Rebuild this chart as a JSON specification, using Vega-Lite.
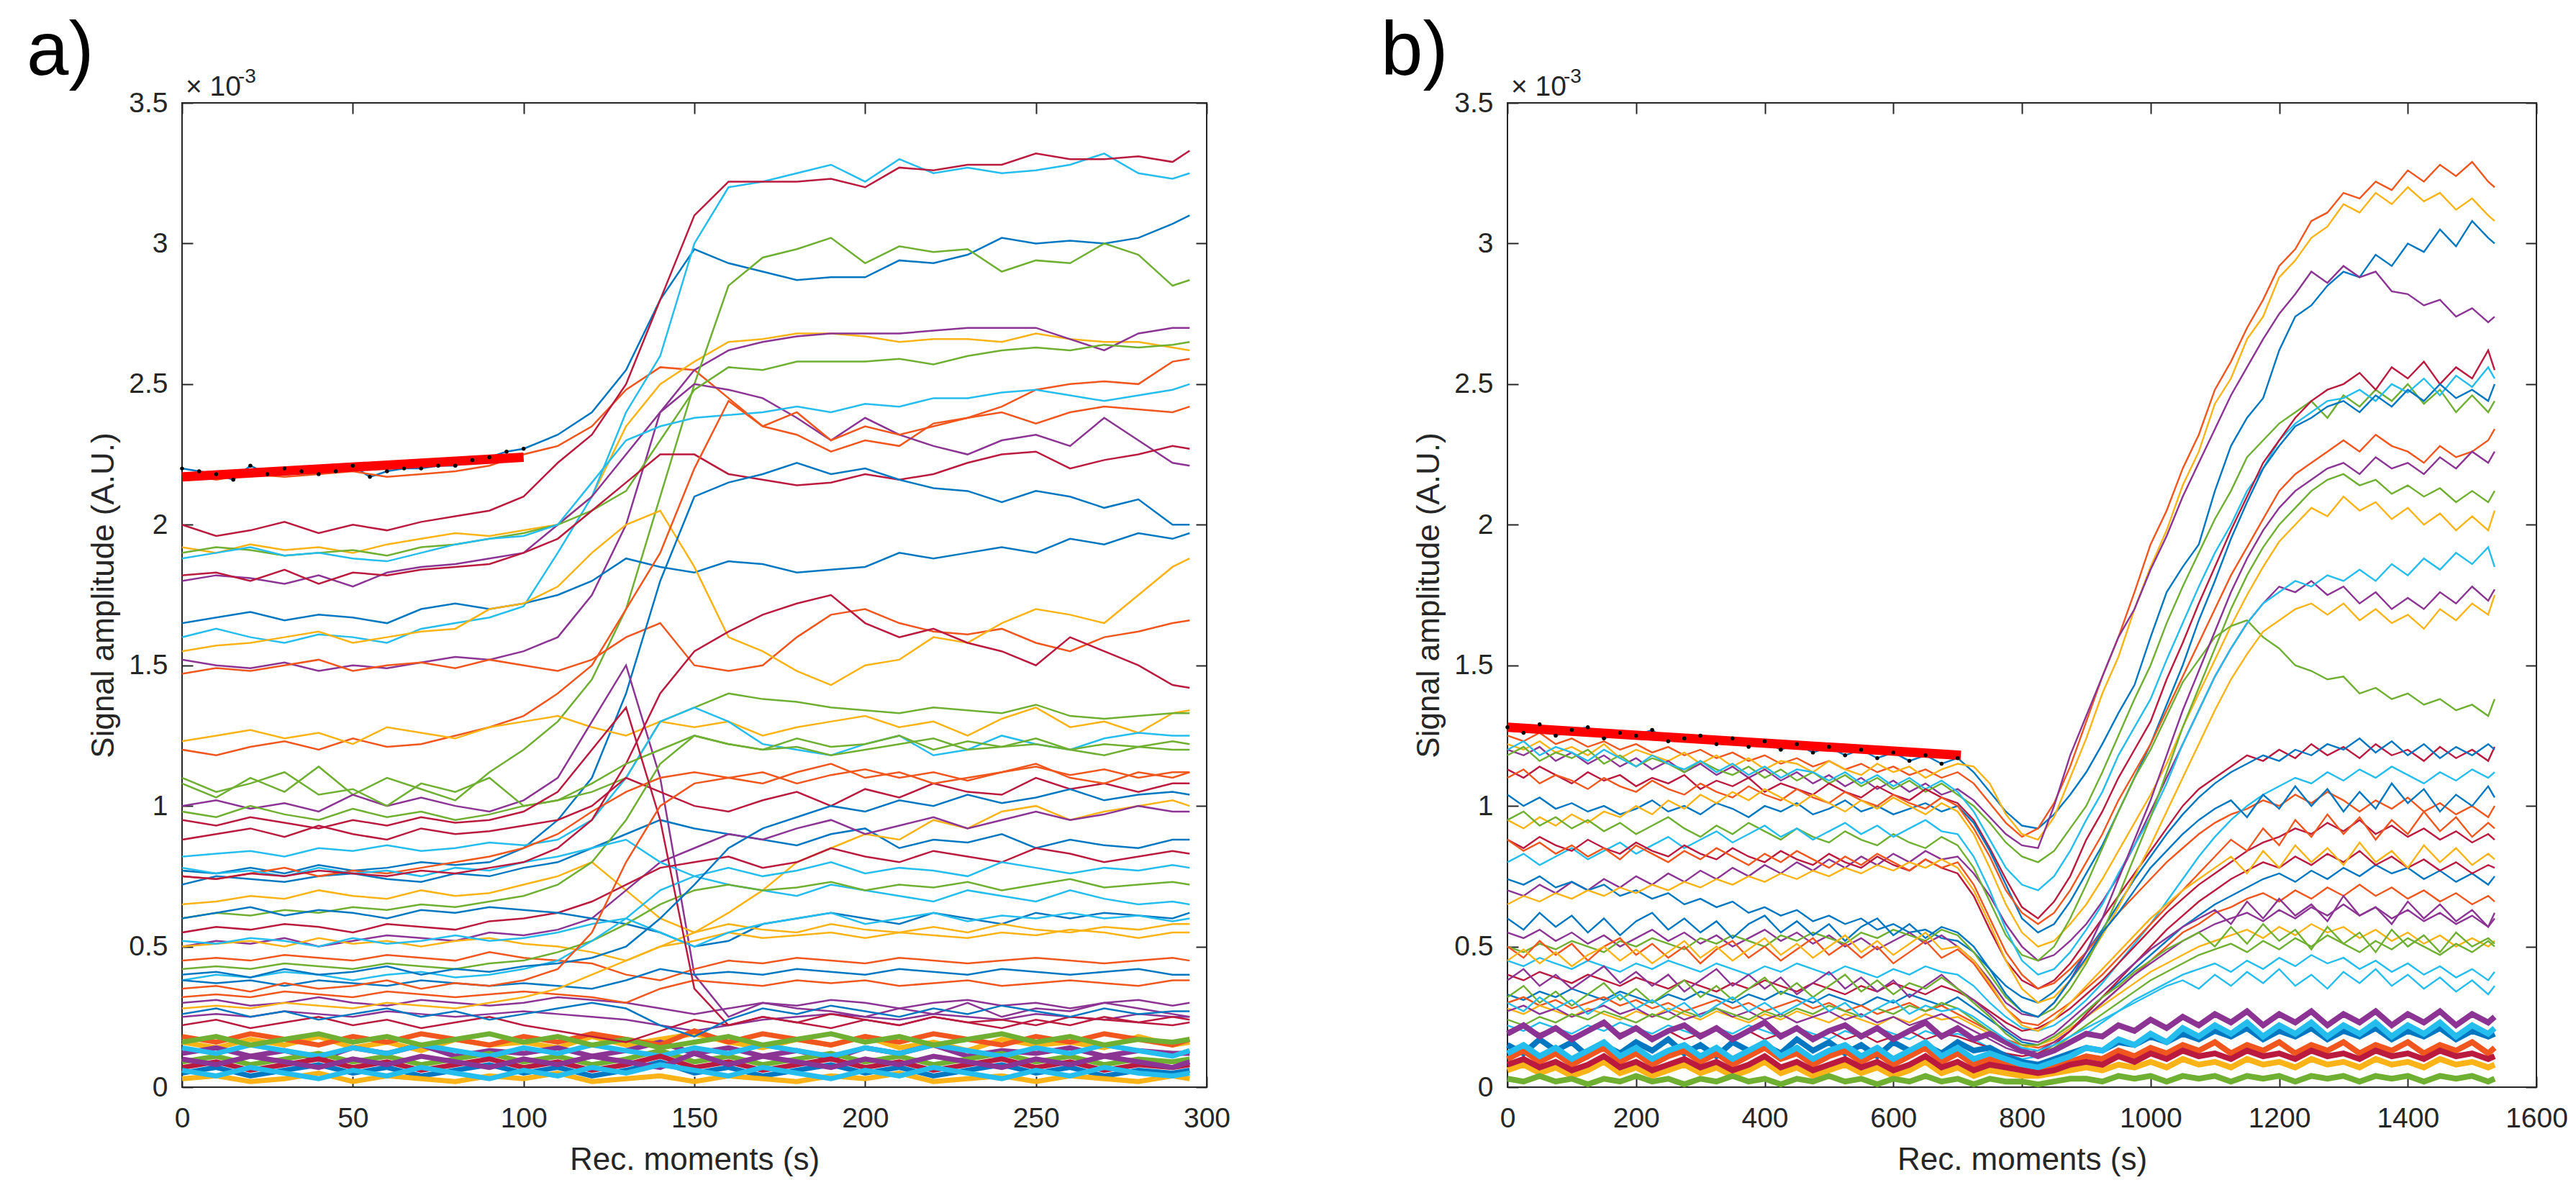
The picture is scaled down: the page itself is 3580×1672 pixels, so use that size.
{
  "$schema": "https://vega.github.io/schema/vega-lite/v6.json",
  "background": "white",
  "padding": {"left": 36, "top": 19, "right": 5, "bottom": 5},
  "spacing": 418,
  "bounds": "flush",
  "config": {
    "font": "Liberation Sans",
    "view": {"stroke": "#262626", "strokeWidth": 2},
    "axis": {
      "grid": false, "domain": false, "tickSize": -15, "tickWidth": 2, "tickColor": "#262626",
      "labelFont": "Liberation Sans", "labelFontSize": 39, "labelColor": "#262626", "labelFlush": false, "labelOverlap": false,
      "titleFont": "Liberation Sans", "titleFontSize": 44, "titleFontWeight": "normal", "titleColor": "#262626"
    },
    "axisX": {"labelPadding": 39, "titlePadding": 16},
    "axisY": {"labelPadding": 35, "titlePadding": 12},
    "title": {"font": "Liberation Sans", "fontSize": 105, "fontWeight": "normal", "anchor": "start", "frame": "group", "baseline": "alphabetic", "color": "#000000", "offset": -33}
  },
  "hconcat": [
    {
      "title": {"text": "a)", "dx": -216},
      "width": 1424,
      "height": 1368,
      "data": {
        "values": "s,t,v\n0,0,220\n0,5,219\n0,10,218\n0,15,216\n0,20,221\n0,25,218\n0,30,220\n0,35,219\n0,40,218\n0,45,219\n0,50,221\n0,55,217\n0,60,219\n0,65,220\n0,70,220\n0,75,221\n0,80,221\n0,85,223\n0,90,224\n0,95,226\n0,100,227\n0,110,232\n0,120,240\n0,130,255\n0,140,280\n0,150,298\n0,160,293\n0,170,290\n0,180,287\n0,190,288\n0,200,288\n0,210,294\n0,220,293\n0,230,296\n0,240,302\n0,250,300\n0,260,301\n0,270,300\n0,280,302\n0,290,307\n0,295,310\n1,0,218\n1,10,216\n1,20,218\n1,30,217\n1,40,218\n1,50,219\n1,60,217\n1,70,218\n1,80,219\n1,90,221\n1,100,225\n1,110,228\n1,120,235\n1,130,248\n1,140,256\n1,150,255\n1,160,245\n1,170,235\n1,180,232\n1,190,226\n1,200,230\n1,210,228\n1,220,236\n1,230,238\n1,240,242\n1,250,248\n1,260,250\n1,270,251\n1,280,250\n1,290,258\n1,295,259\n2,0,192\n2,10,190\n2,20,193\n2,30,191\n2,40,192\n2,50,190\n2,60,193\n2,70,195\n2,80,197\n2,90,196\n2,100,198\n2,110,200\n2,120,210\n2,130,235\n2,140,250\n2,150,258\n2,160,265\n2,170,266\n2,180,268\n2,190,268\n2,200,267\n2,210,265\n2,220,266\n2,230,266\n2,240,265\n2,250,268\n2,260,266\n2,270,265\n2,280,265\n2,290,263\n2,295,262\n3,0,152\n3,10,150\n3,20,149\n3,30,151\n3,40,148\n3,50,150\n3,60,149\n3,70,151\n3,80,153\n3,90,152\n3,100,155\n3,110,160\n3,120,175\n3,130,200\n3,140,240\n3,150,255\n3,160,262\n3,170,265\n3,180,267\n3,190,268\n3,200,268\n3,210,268\n3,220,269\n3,230,270\n3,240,270\n3,250,270\n3,260,266\n3,270,262\n3,280,268\n3,290,270\n3,295,270\n4,0,108\n4,10,103\n4,20,110\n4,30,105\n4,40,114\n4,50,104\n4,60,110\n4,70,106\n4,80,102\n4,90,112\n4,100,120\n4,110,130\n4,120,145\n4,130,170\n4,140,210\n4,150,250\n4,160,285\n4,170,295\n4,180,298\n4,190,302\n4,200,293\n4,210,299\n4,220,297\n4,230,298\n4,240,290\n4,250,294\n4,260,293\n4,270,300\n4,280,296\n4,290,285\n4,295,287\n5,0,160\n5,10,163\n5,20,160\n5,30,158\n5,40,161\n5,50,160\n5,60,158\n5,70,163\n5,80,165\n5,90,167\n5,100,171\n5,110,190\n5,120,210\n5,130,240\n5,140,260\n5,150,300\n5,160,320\n5,170,322\n5,180,325\n5,190,328\n5,200,322\n5,210,330\n5,220,325\n5,230,327\n5,240,325\n5,250,326\n5,260,328\n5,270,332\n5,280,325\n5,290,323\n5,295,325\n6,0,200\n6,10,196\n6,20,198\n6,30,201\n6,40,197\n6,50,200\n6,60,198\n6,70,201\n6,80,203\n6,90,205\n6,100,210\n6,110,222\n6,120,232\n6,130,250\n6,140,280\n6,150,310\n6,160,322\n6,170,322\n6,180,322\n6,190,323\n6,200,320\n6,210,327\n6,220,326\n6,230,328\n6,240,328\n6,250,332\n6,260,330\n6,270,330\n6,280,331\n6,290,329\n6,295,333\n7,0,165\n7,10,167\n7,20,169\n7,30,166\n7,40,168\n7,50,167\n7,60,165\n7,70,170\n7,80,172\n7,90,170\n7,100,172\n7,110,175\n7,120,180\n7,130,188\n7,140,185\n7,150,183\n7,160,187\n7,170,186\n7,180,183\n7,190,184\n7,200,185\n7,210,190\n7,220,188\n7,230,190\n7,240,192\n7,250,190\n7,260,195\n7,270,193\n7,280,197\n7,290,195\n7,295,197\n8,0,147\n8,10,149\n8,20,148\n8,30,150\n8,40,152\n8,50,148\n8,60,150\n8,70,151\n8,80,149\n8,90,152\n8,100,150\n8,110,148\n8,120,152\n8,130,160\n8,140,165\n8,150,150\n8,160,148\n8,170,150\n8,180,160\n8,190,168\n8,200,170\n8,210,165\n8,220,162\n8,230,161\n8,240,163\n8,250,158\n8,260,155\n8,270,160\n8,280,162\n8,290,165\n8,295,166\n9,0,155\n9,10,157\n9,20,158\n9,30,160\n9,40,162\n9,50,158\n9,60,160\n9,70,162\n9,80,163\n9,90,170\n9,100,172\n9,110,178\n9,120,190\n9,130,200\n9,140,205\n9,150,185\n9,160,160\n9,170,155\n9,180,148\n9,190,143\n9,200,150\n9,210,152\n9,220,160\n9,230,158\n9,240,165\n9,250,170\n9,260,168\n9,270,165\n9,280,175\n9,290,185\n9,295,188\n10,0,180\n10,10,182\n10,20,181\n10,30,179\n10,40,182\n10,50,178\n10,60,183\n10,70,185\n10,80,186\n10,90,188\n10,100,190\n10,110,200\n10,120,210\n10,130,225\n10,140,240\n10,150,250\n10,160,248\n10,170,245\n10,180,238\n10,190,230\n10,200,238\n10,210,232\n10,220,228\n10,230,225\n10,240,230\n10,250,232\n10,260,228\n10,270,238\n10,280,230\n10,290,222\n10,295,221\n11,0,190\n11,10,192\n11,20,191\n11,30,189\n11,40,190\n11,50,191\n11,60,189\n11,70,192\n11,80,193\n11,90,195\n11,100,197\n11,110,200\n11,120,205\n11,130,212\n11,140,230\n11,150,248\n11,160,256\n11,170,255\n11,180,258\n11,190,258\n11,200,258\n11,210,259\n11,220,257\n11,230,260\n11,240,262\n11,250,263\n11,260,262\n11,270,264\n11,280,263\n11,290,264\n11,295,265\n12,0,188\n12,10,190\n12,20,192\n12,30,189\n12,40,190\n12,50,188\n12,60,187\n12,70,190\n12,80,193\n12,90,195\n12,100,196\n12,110,200\n12,120,215\n12,130,230\n12,140,235\n12,150,238\n12,160,239\n12,170,240\n12,180,242\n12,190,240\n12,200,243\n12,210,242\n12,220,245\n12,230,245\n12,240,247\n12,250,248\n12,260,246\n12,270,244\n12,280,246\n12,290,248\n12,295,250\n13,0,182\n13,10,183\n13,20,180\n13,30,184\n13,40,179\n13,50,183\n13,60,182\n13,70,184\n13,80,185\n13,90,186\n13,100,190\n13,110,195\n13,120,205\n13,130,215\n13,140,225\n13,150,225\n13,160,218\n13,170,216\n13,180,214\n13,190,215\n13,200,218\n13,210,216\n13,220,218\n13,230,222\n13,240,225\n13,250,226\n13,260,220\n13,270,223\n13,280,225\n13,290,228\n13,295,227\n14,0,77\n14,10,76\n14,20,78\n14,30,76\n14,40,79\n14,50,77\n14,60,78\n14,70,80\n14,80,79\n14,90,80\n14,100,85\n14,110,95\n14,120,110\n14,130,140\n14,140,180\n14,150,210\n14,160,215\n14,170,218\n14,180,222\n14,190,218\n14,200,220\n14,210,216\n14,220,213\n14,230,212\n14,240,208\n14,250,212\n14,260,210\n14,270,206\n14,280,209\n14,290,200\n14,295,200\n15,0,120\n15,10,118\n15,20,121\n15,30,123\n15,40,120\n15,50,124\n15,60,121\n15,70,122\n15,80,125\n15,90,128\n15,100,132\n15,110,140\n15,120,150\n15,130,170\n15,140,190\n15,150,220\n15,160,244\n15,170,235\n15,180,240\n15,190,230\n15,200,235\n15,210,232\n15,220,235\n15,230,238\n15,240,240\n15,250,236\n15,260,240\n15,270,242\n15,280,241\n15,290,240\n15,295,242\n16,0,123\n16,10,125\n16,20,127\n16,30,124\n16,40,126\n16,50,122\n16,60,128\n16,70,126\n16,80,124\n16,90,128\n16,100,130\n16,110,132\n16,120,128\n16,130,125\n16,140,130\n16,150,128\n16,160,130\n16,170,125\n16,180,128\n16,190,130\n16,200,132\n16,210,128\n16,220,130\n16,230,125\n16,240,131\n16,250,135\n16,260,128\n16,270,130\n16,280,126\n16,290,133\n16,295,134\n17,0,100\n17,10,102\n17,20,99\n17,30,101\n17,40,98\n17,50,104\n17,60,100\n17,70,103\n17,80,100\n17,90,98\n17,100,102\n17,110,110\n17,120,130\n17,130,150\n17,140,110\n17,150,40\n17,160,25\n17,170,30\n17,180,28\n17,190,27\n17,200,25\n17,210,28\n17,220,26\n17,230,30\n17,240,25\n17,250,28\n17,260,27\n17,270,30\n17,280,28\n17,290,26\n17,295,25\n18,0,110\n18,10,105\n18,20,108\n18,30,112\n18,40,104\n18,50,106\n18,60,100\n18,70,108\n18,80,105\n18,90,110\n18,100,100\n18,110,102\n18,120,105\n18,130,110\n18,140,130\n18,150,135\n18,160,140\n18,170,138\n18,180,137\n18,190,135\n18,200,134\n18,210,133\n18,220,135\n18,230,134\n18,240,133\n18,250,136\n18,260,132\n18,270,131\n18,280,132\n18,290,133\n18,295,133\n19,0,82\n19,10,83\n19,20,84\n19,30,82\n19,40,85\n19,50,84\n19,60,86\n19,70,84\n19,80,85\n19,90,87\n19,100,86\n19,110,88\n19,120,95\n19,130,110\n19,140,130\n19,150,135\n19,160,130\n19,170,122\n19,180,120\n19,190,118\n19,200,122\n19,210,125\n19,220,118\n19,230,120\n19,240,125\n19,250,122\n19,260,120\n19,270,124\n19,280,126\n19,290,125\n19,295,125\n20,0,88\n20,10,90\n20,20,92\n20,30,89\n20,40,93\n20,50,90\n20,60,88\n20,70,92\n20,80,90\n20,90,91\n20,100,93\n20,110,95\n20,120,100\n20,130,110\n20,140,105\n20,150,100\n20,160,98\n20,170,102\n20,180,105\n20,190,100\n20,200,106\n20,210,103\n20,220,108\n20,230,105\n20,240,104\n20,250,110\n20,260,106\n20,270,108\n20,280,105\n20,290,108\n20,295,108\n21,0,72\n21,10,75\n21,20,74\n21,30,73\n21,40,75\n21,50,76\n21,60,74\n21,70,73\n21,80,76\n21,90,75\n21,100,78\n21,110,80\n21,120,85\n21,130,90\n21,140,95\n21,150,92\n21,160,90\n21,170,88\n21,180,86\n21,190,90\n21,200,92\n21,210,85\n21,220,88\n21,230,87\n21,240,90\n21,250,85\n21,260,88\n21,270,86\n21,280,85\n21,290,88\n21,295,88\n22,0,75\n22,10,74\n22,20,76\n22,30,78\n22,40,75\n22,50,77\n22,60,76\n22,70,78\n22,80,80\n22,90,82\n22,100,85\n22,110,90\n22,120,98\n22,130,105\n22,140,110\n22,150,112\n22,160,110\n22,170,108\n22,180,112\n22,190,115\n22,200,110\n22,210,112\n22,220,108\n22,230,110\n22,240,112\n22,250,115\n22,260,110\n22,270,108\n22,280,112\n22,290,110\n22,295,112\n23,0,65\n23,10,66\n23,20,68\n23,30,67\n23,40,70\n23,50,68\n23,60,67\n23,70,70\n23,80,68\n23,90,69\n23,100,72\n23,110,75\n23,120,80\n23,130,70\n23,140,60\n23,150,55\n23,160,62\n23,170,70\n23,180,80\n23,190,85\n23,200,90\n23,210,88\n23,220,95\n23,230,92\n23,240,98\n23,250,100\n23,260,95\n23,270,98\n23,280,100\n23,290,102\n23,295,100\n24,0,50\n24,10,52\n24,20,51\n24,30,53\n24,40,50\n24,50,52\n24,60,54\n24,70,53\n24,80,52\n24,90,55\n24,100,54\n24,110,56\n24,120,60\n24,130,70\n24,140,80\n24,150,85\n24,160,90\n24,170,88\n24,180,92\n24,190,95\n24,200,90\n24,210,93\n24,220,96\n24,230,92\n24,240,95\n24,250,98\n24,260,95\n24,270,97\n24,280,100\n24,290,98\n24,295,98\n25,0,60\n25,10,62\n25,20,61\n25,30,63\n25,40,62\n25,50,64\n25,60,63\n25,70,65\n25,80,64\n25,90,66\n25,100,68\n25,110,72\n25,120,80\n25,130,95\n25,140,115\n25,150,125\n25,160,122\n25,170,120\n25,180,121\n25,190,118\n25,200,120\n25,210,122\n25,220,124\n25,230,120\n25,240,121\n25,250,122\n25,260,120\n25,270,118\n25,280,121\n25,290,120\n25,295,120\n26,0,78\n26,10,76\n26,20,77\n26,30,75\n26,40,78\n26,50,76\n26,60,77\n26,70,75\n26,80,78\n26,90,77\n26,100,80\n26,110,82\n26,120,85\n26,130,88\n26,140,80\n26,150,75\n26,160,72\n26,170,70\n26,180,68\n26,190,72\n26,200,70\n26,210,68\n26,220,66\n26,230,70\n26,240,68\n26,250,66\n26,260,70\n26,270,67\n26,280,65\n26,290,66\n26,295,65\n27,0,55\n27,10,57\n27,20,56\n27,30,58\n27,40,57\n27,50,55\n27,60,58\n27,70,57\n27,80,56\n27,90,59\n27,100,60\n27,110,62\n27,120,66\n27,130,72\n27,140,78\n27,150,80\n27,160,82\n27,170,78\n27,180,80\n27,190,85\n27,200,82\n27,210,80\n27,220,84\n27,230,82\n27,240,80\n27,250,85\n27,260,83\n27,270,80\n27,280,82\n27,290,84\n27,295,83\n28,0,60\n28,10,62\n28,20,64\n28,30,61\n28,40,63\n28,50,62\n28,60,60\n28,70,63\n28,80,62\n28,90,64\n28,100,63\n28,110,62\n28,120,60\n28,130,58\n28,140,55\n28,150,50\n28,160,52\n28,170,58\n28,180,60\n28,190,62\n28,200,60\n28,210,58\n28,220,62\n28,230,60\n28,240,58\n28,250,62\n28,260,60\n28,270,62\n28,280,61\n28,290,60\n28,295,62\n29,0,45\n29,10,46\n29,20,45\n29,30,47\n29,40,46\n29,50,45\n29,60,47\n29,70,46\n29,80,45\n29,90,48\n29,100,46\n29,110,45\n29,120,44\n29,130,40\n29,140,38\n29,150,42\n29,160,45\n29,170,44\n29,180,46\n29,190,45\n29,200,44\n29,210,46\n29,220,45\n29,230,44\n29,240,45\n29,250,46\n29,260,45\n29,270,44\n29,280,45\n29,290,46\n29,295,45\n30,0,50\n30,10,51\n30,20,52\n30,30,50\n30,40,53\n30,50,51\n30,60,52\n30,70,50\n30,80,52\n30,90,53\n30,100,51\n30,110,50\n30,120,48\n30,130,45\n30,140,50\n30,150,55\n30,160,58\n30,170,56\n30,180,55\n30,190,58\n30,200,56\n30,210,55\n30,220,57\n30,230,55\n30,240,58\n30,250,56\n30,260,55\n30,270,57\n30,280,56\n30,290,58\n30,295,58\n31,0,30\n31,10,31\n31,20,29\n31,30,30\n31,40,32\n31,50,30\n31,60,29\n31,70,31\n31,80,30\n31,90,29\n31,100,30\n31,110,32\n31,120,31\n31,130,30\n31,140,28\n31,150,26\n31,160,28\n31,170,30\n31,180,29\n31,190,31\n31,200,30\n31,210,28\n31,220,30\n31,230,31\n31,240,29\n31,250,30\n31,260,28\n31,270,30\n31,280,31\n31,290,29\n31,295,30\n32,0,42\n32,10,43\n32,20,42\n32,30,44\n32,40,43\n32,50,42\n32,60,44\n32,70,43\n32,80,42\n32,90,44\n32,100,45\n32,110,48\n32,120,52\n32,130,58\n32,140,65\n32,150,70\n32,160,72\n32,170,70\n32,180,71\n32,190,73\n32,200,70\n32,210,72\n32,220,71\n32,230,73\n32,240,70\n32,250,72\n32,260,74\n32,270,71\n32,280,72\n32,290,73\n32,295,72\n33,0,38\n33,10,40\n33,20,39\n33,30,41\n33,40,40\n33,50,38\n33,60,40\n33,70,41\n33,80,39\n33,90,40\n33,100,42\n33,110,45\n33,120,52\n33,130,60\n33,140,70\n33,150,75\n33,160,78\n33,170,75\n33,180,77\n33,190,80\n33,200,76\n33,210,78\n33,220,77\n33,230,75\n33,240,80\n33,250,78\n33,260,76\n33,270,78\n33,280,77\n33,290,79\n33,295,78\n34,0,75\n34,10,74\n34,20,76\n34,30,75\n34,40,77\n34,50,76\n34,60,75\n34,70,77\n34,80,76\n34,90,78\n34,100,80\n34,110,85\n34,120,95\n34,130,115\n34,140,140\n34,150,155\n34,160,162\n34,170,168\n34,180,172\n34,190,175\n34,200,165\n34,210,160\n34,220,163\n34,230,158\n34,240,155\n34,250,150\n34,260,160\n34,270,155\n34,280,150\n34,290,143\n34,295,142\n35,0,38\n35,10,37\n35,20,38\n35,30,36\n35,40,38\n35,50,37\n35,60,36\n35,70,38\n35,80,37\n35,90,36\n35,100,37\n35,110,36\n35,120,35\n35,130,38\n35,140,42\n35,150,40\n35,160,41\n35,170,40\n35,180,42\n35,190,41\n35,200,40\n35,210,42\n35,220,41\n35,230,40\n35,240,42\n35,250,41\n35,260,40\n35,270,41\n35,280,42\n35,290,40\n35,295,40\n36,0,32\n36,10,33\n36,20,32\n36,30,34\n36,40,33\n36,50,32\n36,60,34\n36,70,33\n36,80,32\n36,90,33\n36,100,34\n36,110,33\n36,120,32\n36,130,30\n36,140,35\n36,150,38\n36,160,37\n36,170,36\n36,180,38\n36,190,37\n36,200,38\n36,210,36\n36,220,37\n36,230,38\n36,240,36\n36,250,37\n36,260,38\n36,270,37\n36,280,36\n36,290,38\n36,295,38\n37,0,28\n37,10,29\n37,20,28\n37,30,30\n37,40,29\n37,50,28\n37,60,30\n37,70,29\n37,80,28\n37,90,30\n37,100,32\n37,110,35\n37,120,40\n37,130,45\n37,140,50\n37,150,52\n37,160,55\n37,170,53\n37,180,54\n37,190,55\n37,200,53\n37,210,55\n37,220,54\n37,230,53\n37,240,55\n37,250,54\n37,260,56\n37,270,55\n37,280,53\n37,290,55\n37,295,55\n38,0,25\n38,10,26\n38,20,25\n38,30,27\n38,40,26\n38,50,25\n38,60,27\n38,70,26\n38,80,25\n38,90,26\n38,100,27\n38,110,26\n38,120,25\n38,130,24\n38,140,22\n38,150,20\n38,160,22\n38,170,24\n38,180,25\n38,190,26\n38,200,25\n38,210,24\n38,220,26\n38,230,25\n38,240,24\n38,250,26\n38,260,25\n38,270,24\n38,280,26\n38,290,25\n38,295,25\n39,0,98\n39,10,96\n39,20,100\n39,30,97\n39,40,95\n39,50,99\n39,60,96\n39,70,98\n39,80,95\n39,90,97\n39,100,100\n39,110,102\n39,120,108\n39,130,115\n39,140,120\n39,150,125\n39,160,122\n39,170,120\n39,180,124\n39,190,121\n39,200,122\n39,210,125\n39,220,120\n39,230,123\n39,240,121\n39,250,124\n39,260,120\n39,270,122\n39,280,121\n39,290,123\n39,295,122\n40,0,52\n40,10,51\n40,20,53\n40,30,52\n40,40,50\n40,50,53\n40,60,51\n40,70,52\n40,80,54\n40,90,52\n40,100,53\n40,110,55\n40,120,58\n40,130,60\n40,140,55\n40,150,50\n40,160,55\n40,170,58\n40,180,60\n40,190,62\n40,200,58\n40,210,60\n40,220,62\n40,230,59\n40,240,61\n40,250,60\n40,260,62\n40,270,60\n40,280,61\n40,290,59\n40,295,60\n41,0,95\n41,10,93\n41,20,96\n41,30,94\n41,40,92\n41,50,95\n41,60,93\n41,70,96\n41,80,94\n41,90,95\n41,100,98\n41,110,105\n41,120,120\n41,130,135\n41,140,95\n41,150,35\n41,160,22\n41,170,25\n41,180,23\n41,190,26\n41,200,24\n41,210,22\n41,220,25\n41,230,23\n41,240,24\n41,250,22\n41,260,25\n41,270,24\n41,280,23\n41,290,25\n41,295,24\n42,0,40\n42,10,41\n42,20,39\n42,30,42\n42,40,40\n42,50,41\n42,60,43\n42,70,40\n42,80,42\n42,90,41\n42,100,43\n42,110,44\n42,120,46\n42,130,50\n42,140,60\n42,150,72\n42,160,85\n42,170,92\n42,180,96\n42,190,100\n42,200,98\n42,210,102\n42,220,100\n42,230,104\n42,240,101\n42,250,103\n42,260,106\n42,270,102\n42,280,104\n42,290,105\n42,295,104\n43,0,35\n43,10,36\n43,20,34\n43,30,37\n43,40,35\n43,50,36\n43,60,38\n43,70,35\n43,80,37\n43,90,36\n43,100,38\n43,110,42\n43,120,55\n43,130,80\n43,140,100\n43,150,108\n43,160,110\n43,170,112\n43,180,108\n43,190,111\n43,200,113\n43,210,110\n43,220,112\n43,230,109\n43,240,112\n43,250,114\n43,260,111\n43,270,113\n43,280,110\n43,290,112\n43,295,112\n44,0,16\n44,10,14\n44,20,17\n44,30,15\n44,40,18\n44,50,14\n44,60,16\n44,70,13\n44,80,17\n44,90,15\n44,100,16\n44,110,14\n44,120,18\n44,130,15\n44,140,17\n44,150,19\n44,160,16\n44,170,14\n44,180,17\n44,190,15\n44,200,18\n44,210,14\n44,220,16\n44,230,13\n44,240,17\n44,250,15\n44,260,16\n44,270,14\n44,280,18\n44,290,15\n44,295,16\n45,0,12\n45,10,14\n45,20,11\n45,30,13\n45,40,10\n45,50,14\n45,60,12\n45,70,15\n45,80,11\n45,90,13\n45,100,12\n45,110,14\n45,120,11\n45,130,13\n45,140,16\n45,150,12\n45,160,14\n45,170,11\n45,180,13\n45,190,10\n45,200,14\n45,210,12\n45,220,15\n45,230,11\n45,240,13\n45,250,12\n45,260,14\n45,270,11\n45,280,13\n45,290,12\n45,295,12\n46,0,9\n46,10,11\n46,20,8\n46,30,10\n46,40,12\n46,50,9\n46,60,11\n46,70,8\n46,80,10\n46,90,12\n46,100,9\n46,110,11\n46,120,8\n46,130,10\n46,140,13\n46,150,9\n46,160,11\n46,170,8\n46,180,10\n46,190,12\n46,200,9\n46,210,11\n46,220,8\n46,230,10\n46,240,12\n46,250,9\n46,260,11\n46,270,8\n46,280,10\n46,290,9\n46,295,10\n47,0,14\n47,10,12\n47,20,15\n47,30,13\n47,40,11\n47,50,14\n47,60,12\n47,70,15\n47,80,13\n47,90,11\n47,100,14\n47,110,12\n47,120,15\n47,130,13\n47,140,11\n47,150,14\n47,160,12\n47,170,15\n47,180,13\n47,190,11\n47,200,14\n47,210,12\n47,220,15\n47,230,13\n47,240,11\n47,250,14\n47,260,12\n47,270,15\n47,280,13\n47,290,11\n47,295,13\n48,0,7\n48,10,9\n48,20,6\n48,30,8\n48,40,10\n48,50,7\n48,60,9\n48,70,6\n48,80,8\n48,90,10\n48,100,7\n48,110,9\n48,120,6\n48,130,8\n48,140,11\n48,150,7\n48,160,9\n48,170,6\n48,180,8\n48,190,10\n48,200,7\n48,210,9\n48,220,6\n48,230,8\n48,240,10\n48,250,7\n48,260,9\n48,270,6\n48,280,8\n48,290,7\n48,295,8\n49,0,5\n49,10,7\n49,20,4\n49,30,6\n49,40,8\n49,50,5\n49,60,7\n49,70,4\n49,80,6\n49,90,8\n49,100,5\n49,110,7\n49,120,4\n49,130,6\n49,140,9\n49,150,5\n49,160,7\n49,170,4\n49,180,6\n49,190,8\n49,200,5\n49,210,7\n49,220,4\n49,230,6\n49,240,8\n49,250,5\n49,260,7\n49,270,4\n49,280,6\n49,290,5\n49,295,6\n50,0,18\n50,10,16\n50,20,19\n50,30,17\n50,40,15\n50,50,18\n50,60,16\n50,70,19\n50,80,17\n50,90,15\n50,100,18\n50,110,16\n50,120,19\n50,130,17\n50,140,15\n50,150,20\n50,160,16\n50,170,19\n50,180,17\n50,190,15\n50,200,18\n50,210,16\n50,220,19\n50,230,17\n50,240,15\n50,250,18\n50,260,16\n50,270,19\n50,280,17\n50,290,15\n50,295,17\n51,0,3\n51,10,4\n51,20,2\n51,30,3\n51,40,5\n51,50,2\n51,60,4\n51,70,3\n51,80,2\n51,90,4\n51,100,3\n51,110,5\n51,120,2\n51,130,3\n51,140,4\n51,150,2\n51,160,4\n51,170,3\n51,180,2\n51,190,4\n51,200,3\n51,210,5\n51,220,2\n51,230,3\n51,240,4\n51,250,2\n51,260,4\n51,270,3\n51,280,2\n51,290,4\n51,295,3\n52,0,10\n52,10,8\n52,20,11\n52,30,9\n52,40,7\n52,50,10\n52,60,8\n52,70,11\n52,80,9\n52,90,7\n52,100,10\n52,110,8\n52,120,11\n52,130,9\n52,140,7\n52,150,12\n52,160,8\n52,170,11\n52,180,9\n52,190,7\n52,200,10\n52,210,8\n52,220,11\n52,230,9\n52,240,7\n52,250,10\n52,260,8\n52,270,11\n52,280,9\n52,290,7\n52,295,9\n53,0,16\n53,10,18\n53,20,15\n53,30,17\n53,40,19\n53,50,16\n53,60,18\n53,70,15\n53,80,17\n53,90,19\n53,100,16\n53,110,18\n53,120,15\n53,130,17\n53,140,14\n53,150,16\n53,160,18\n53,170,15\n53,180,17\n53,190,19\n53,200,16\n53,210,18\n53,220,15\n53,230,17\n53,240,19\n53,250,16\n53,260,18\n53,270,15\n53,280,17\n53,290,16\n53,295,17\n54,0,6\n54,10,4\n54,20,7\n54,30,5\n54,40,3\n54,50,6\n54,60,4\n54,70,7\n54,80,5\n54,90,3\n54,100,6\n54,110,4\n54,120,7\n54,130,5\n54,140,8\n54,150,6\n54,160,4\n54,170,7\n54,180,5\n54,190,3\n54,200,6\n54,210,4\n54,220,7\n54,230,5\n54,240,3\n54,250,6\n54,260,4\n54,270,7\n54,280,5\n54,290,4\n54,295,5\n55,0,22\n55,10,24\n55,20,21\n55,30,23\n55,40,25\n55,50,22\n55,60,24\n55,70,21\n55,80,23\n55,90,25\n55,100,22\n55,110,20\n55,120,18\n55,130,16\n55,140,20\n55,150,24\n55,160,22\n55,170,25\n55,180,23\n55,190,21\n55,200,24\n55,210,22\n55,220,25\n55,230,23\n55,240,21\n55,250,24\n55,260,22\n55,270,25\n55,280,23\n55,290,22\n55,295,23\n56,0,26\n56,10,28\n56,20,25\n56,30,27\n56,40,24\n56,50,26\n56,60,28\n56,70,25\n56,80,27\n56,90,24\n56,100,26\n56,110,28\n56,120,30\n56,130,28\n56,140,22\n56,150,18\n56,160,24\n56,170,28\n56,180,26\n56,190,29\n56,200,27\n56,210,25\n56,220,28\n56,230,26\n56,240,29\n56,250,27\n56,260,25\n56,270,28\n56,280,26\n56,290,27\n56,295,27",
        "format": {"type": "csv", "parse": {"s": "number", "t": "number", "v": "number"}}
      },
      "layer": [
        {
          "mark": {"type": "line", "interpolate": "linear"},
          "encoding": {
            "x": {"field": "t", "type": "quantitative", "scale": {"domain": [0, 300], "nice": false, "zero": false},
                  "axis": {"orient": "bottom", "values": [0, 50, 100, 150, 200, 250, 300], "format": "d", "title": "Rec. moments (s)"}},
            "y": {"field": "v", "type": "quantitative", "scale": {"domain": [0, 350], "nice": false},
                  "axis": {"orient": "left", "values": [0, 50, 100, 150, 200, 250, 300, 350], "labelExpr": "datum.value / 100", "title": "Signal amplitude (A.U.)"}},
            "color": {"field": "s", "type": "nominal", "legend": null,
                      "scale": {"range": ["#0077C0", "#F0561E", "#FBB317", "#8B3493", "#6FAF32", "#25BDEE", "#BA1A3E"]}},
            "strokeWidth": {"condition": {"test": "datum.s >= 44 && datum.s <= 54", "value": 7}, "value": 2.5}
          }
        },
        {
          "data": {"values": [{"t": 0, "v": 217}, {"t": 100, "v": 224}]},
          "mark": {"type": "line", "color": "#FF0000", "strokeWidth": 13},
          "encoding": {
            "x": {"field": "t", "type": "quantitative",
                  "axis": {"orient": "top", "values": [0, 50, 100, 150, 200, 250, 300], "labels": false, "title": null}},
            "y": {"field": "v", "type": "quantitative",
                  "axis": {"orient": "right", "values": [0, 50, 100, 150, 200, 250, 300, 350], "labels": false, "title": null}}
          }
        },
        {
          "transform": [{"filter": "datum.s == 0 && datum.t <= 100"}],
          "mark": {"type": "circle", "color": "#000000", "size": 30, "opacity": 1},
          "encoding": {
            "x": {"field": "t", "type": "quantitative", "axis": null},
            "y": {"field": "v", "type": "quantitative", "axis": null}
          }
        },
        {
          "data": {"values": [{"t": 0, "v": 350, "lab": "× 10"}]},
          "mark": {"type": "text", "align": "left", "baseline": "alphabetic", "dx": 5, "dy": -10, "fontSize": 39, "color": "#262626"},
          "encoding": {
            "x": {"field": "t", "type": "quantitative", "axis": null},
            "y": {"field": "v", "type": "quantitative", "axis": null},
            "text": {"field": "lab"}
          }
        },
        {
          "data": {"values": [{"t": 0, "v": 350, "lab": "-3"}]},
          "mark": {"type": "text", "align": "left", "baseline": "alphabetic", "dx": 78, "dy": -28, "fontSize": 28, "color": "#262626"},
          "encoding": {
            "x": {"field": "t", "type": "quantitative", "axis": null},
            "y": {"field": "v", "type": "quantitative", "axis": null},
            "text": {"field": "lab"}
          }
        }
      ],
      "resolve": {"axis": {"x": "independent", "y": "independent"}}
    },
    {
      "title": {"text": "b)", "dx": -176},
      "width": 1430,
      "height": 1368,
      "data": {
        "values": "s,t,v\n0,0,128\n0,25,126\n0,50,129\n0,75,125\n0,100,127\n0,125,128\n0,150,124\n0,175,126\n0,200,125\n0,225,127\n0,250,123\n0,275,124\n0,300,125\n0,325,122\n0,350,124\n0,375,121\n0,400,123\n0,425,120\n0,450,122\n0,475,119\n0,500,121\n0,525,118\n0,550,120\n0,575,117\n0,600,119\n0,625,116\n0,650,118\n0,675,115\n0,700,117\n0,725,112\n0,750,105\n0,775,98\n0,800,93\n0,825,92\n0,850,97\n0,875,104\n0,900,112\n0,925,122\n0,950,133\n0,975,143\n0,1000,160\n0,1025,176\n0,1050,185\n0,1075,193\n0,1100,212\n0,1125,228\n0,1150,238\n0,1175,245\n0,1200,262\n0,1225,274\n0,1250,278\n0,1275,285\n0,1300,290\n0,1325,288\n0,1350,296\n0,1375,292\n0,1400,300\n0,1425,297\n0,1450,305\n0,1475,299\n0,1500,308\n0,1525,302\n0,1535,300\n1,0,125\n1,25,123\n1,50,126\n1,75,122\n1,100,124\n1,125,121\n1,150,123\n1,175,120\n1,200,122\n1,225,119\n1,250,121\n1,275,118\n1,300,120\n1,325,117\n1,350,119\n1,375,116\n1,400,118\n1,425,115\n1,450,117\n1,475,114\n1,500,116\n1,525,113\n1,550,115\n1,575,112\n1,600,114\n1,625,111\n1,650,113\n1,675,110\n1,700,112\n1,725,108\n1,750,101\n1,775,94\n1,800,89\n1,825,92\n1,850,101\n1,875,114\n1,900,130\n1,925,146\n1,950,160\n1,975,176\n1,1000,193\n1,1025,205\n1,1050,220\n1,1075,232\n1,1100,248\n1,1125,258\n1,1150,270\n1,1175,280\n1,1200,292\n1,1225,298\n1,1250,308\n1,1275,311\n1,1300,318\n1,1325,316\n1,1350,322\n1,1375,319\n1,1400,326\n1,1425,322\n1,1450,328\n1,1475,324\n1,1500,329\n1,1525,322\n1,1535,320\n2,0,122\n2,25,120\n2,50,123\n2,75,119\n2,100,121\n2,125,118\n2,150,122\n2,175,117\n2,200,120\n2,225,118\n2,250,116\n2,275,119\n2,300,115\n2,325,118\n2,350,114\n2,375,117\n2,400,113\n2,425,116\n2,450,115\n2,475,112\n2,500,116\n2,525,113\n2,550,111\n2,575,115\n2,600,112\n2,625,114\n2,650,110\n2,675,113\n2,700,115\n2,725,114\n2,750,108\n2,775,97\n2,800,90\n2,825,88\n2,850,96\n2,875,110\n2,900,124\n2,925,140\n2,950,153\n2,975,170\n2,1000,185\n2,1025,198\n2,1050,214\n2,1075,226\n2,1100,243\n2,1125,252\n2,1150,266\n2,1175,274\n2,1200,288\n2,1225,294\n2,1250,302\n2,1275,306\n2,1300,314\n2,1325,311\n2,1350,318\n2,1375,314\n2,1400,320\n2,1425,315\n2,1450,318\n2,1475,312\n2,1500,316\n2,1525,310\n2,1535,308\n3,0,120\n3,25,118\n3,50,121\n3,75,116\n3,100,119\n3,125,115\n3,150,118\n3,175,114\n3,200,117\n3,225,113\n3,250,116\n3,275,112\n3,300,115\n3,325,111\n3,350,114\n3,375,110\n3,400,113\n3,425,109\n3,450,112\n3,475,108\n3,500,111\n3,525,107\n3,550,110\n3,575,106\n3,600,109\n3,625,105\n3,650,108\n3,675,104\n3,700,106\n3,725,102\n3,750,96\n3,775,90\n3,800,86\n3,825,85\n3,850,100\n3,875,118\n3,900,132\n3,925,146\n3,950,160\n3,975,170\n3,1000,184\n3,1025,196\n3,1050,210\n3,1075,222\n3,1100,234\n3,1125,246\n3,1150,256\n3,1175,266\n3,1200,275\n3,1225,282\n3,1250,290\n3,1275,286\n3,1300,292\n3,1325,288\n3,1350,290\n3,1375,283\n3,1400,282\n3,1425,278\n3,1450,280\n3,1475,274\n3,1500,277\n3,1525,272\n3,1535,274\n4,0,118\n4,25,121\n4,50,116\n4,75,119\n4,100,117\n4,125,120\n4,150,115\n4,175,118\n4,200,114\n4,225,117\n4,250,115\n4,275,112\n4,300,116\n4,325,113\n4,350,111\n4,375,114\n4,400,110\n4,425,113\n4,450,109\n4,475,112\n4,500,108\n4,525,111\n4,550,107\n4,575,110\n4,600,106\n4,625,109\n4,650,105\n4,675,108\n4,700,104\n4,725,100\n4,750,94\n4,775,87\n4,800,82\n4,825,80\n4,850,84\n4,875,92\n4,900,100\n4,925,112\n4,950,125\n4,975,138\n4,1000,150\n4,1025,165\n4,1050,178\n4,1075,190\n4,1100,202\n4,1125,212\n4,1150,224\n4,1175,230\n4,1200,236\n4,1225,240\n4,1250,244\n4,1275,238\n4,1300,246\n4,1325,242\n4,1350,248\n4,1375,244\n4,1400,250\n4,1425,243\n4,1450,248\n4,1475,240\n4,1500,246\n4,1525,240\n4,1535,244\n5,0,120\n5,25,123\n5,50,118\n5,75,121\n5,100,119\n5,125,116\n5,150,120\n5,175,117\n5,200,114\n5,225,118\n5,250,115\n5,275,113\n5,300,116\n5,325,112\n5,350,115\n5,375,111\n5,400,114\n5,425,110\n5,450,113\n5,475,112\n5,500,109\n5,525,112\n5,550,108\n5,575,111\n5,600,107\n5,625,110\n5,650,106\n5,675,109\n5,700,105\n5,725,98\n5,750,88\n5,775,78\n5,800,72\n5,825,70\n5,850,75\n5,875,84\n5,900,95\n5,925,105\n5,950,118\n5,975,128\n5,1000,138\n5,1025,152\n5,1050,165\n5,1075,178\n5,1100,190\n5,1125,200\n5,1150,212\n5,1175,220\n5,1200,230\n5,1225,236\n5,1250,240\n5,1275,244\n5,1300,245\n5,1325,248\n5,1350,244\n5,1375,250\n5,1400,247\n5,1425,252\n5,1450,246\n5,1475,253\n5,1500,249\n5,1525,256\n5,1535,252\n6,0,113\n6,25,110\n6,50,114\n6,75,111\n6,100,108\n6,125,112\n6,150,109\n6,175,111\n6,200,107\n6,225,110\n6,250,108\n6,275,111\n6,300,106\n6,325,109\n6,350,107\n6,375,110\n6,400,105\n6,425,108\n6,450,106\n6,475,104\n6,500,108\n6,525,105\n6,550,103\n6,575,107\n6,600,104\n6,625,102\n6,650,106\n6,675,103\n6,700,101\n6,725,95\n6,750,85\n6,775,74\n6,800,64\n6,825,60\n6,850,66\n6,875,75\n6,900,88\n6,925,98\n6,950,110\n6,975,120\n6,1000,130\n6,1025,145\n6,1050,158\n6,1075,172\n6,1100,185\n6,1125,198\n6,1150,210\n6,1175,222\n6,1200,230\n6,1225,238\n6,1250,244\n6,1275,248\n6,1300,250\n6,1325,254\n6,1350,248\n6,1375,256\n6,1400,252\n6,1425,258\n6,1450,250\n6,1475,256\n6,1500,252\n6,1525,262\n6,1535,255\n7,0,104\n7,25,100\n7,50,103\n7,75,99\n7,100,101\n7,125,98\n7,150,100\n7,175,97\n7,200,99\n7,225,102\n7,250,98\n7,275,100\n7,300,97\n7,325,101\n7,350,99\n7,375,96\n7,400,100\n7,425,98\n7,450,101\n7,475,97\n7,500,99\n7,525,102\n7,550,98\n7,575,100\n7,600,97\n7,625,99\n7,650,101\n7,675,98\n7,700,100\n7,725,94\n7,750,84\n7,775,72\n7,800,60\n7,825,55\n7,850,58\n7,875,66\n7,900,76\n7,925,86\n7,950,98\n7,975,110\n7,1000,122\n7,1025,136\n7,1050,150\n7,1075,166\n7,1100,180\n7,1125,195\n7,1150,208\n7,1175,220\n7,1200,228\n7,1225,235\n7,1250,238\n7,1275,242\n7,1300,244\n7,1325,240\n7,1350,246\n7,1375,242\n7,1400,248\n7,1425,244\n7,1450,250\n7,1475,245\n7,1500,248\n7,1525,244\n7,1535,250\n8,0,110\n8,25,113\n8,50,108\n8,75,111\n8,100,109\n8,125,106\n8,150,110\n8,175,107\n8,200,105\n8,225,109\n8,250,106\n8,275,104\n8,300,108\n8,325,105\n8,350,103\n8,375,107\n8,400,104\n8,425,102\n8,450,106\n8,475,103\n8,500,101\n8,525,105\n8,550,102\n8,575,100\n8,600,104\n8,625,101\n8,650,99\n8,675,103\n8,700,100\n8,725,92\n8,750,82\n8,775,70\n8,800,62\n8,825,58\n8,850,62\n8,875,70\n8,900,80\n8,925,90\n8,950,102\n8,975,112\n8,1000,122\n8,1025,134\n8,1050,146\n8,1075,158\n8,1100,170\n8,1125,182\n8,1150,192\n8,1175,202\n8,1200,212\n8,1225,218\n8,1250,222\n8,1275,226\n8,1300,230\n8,1325,226\n8,1350,232\n8,1375,228\n8,1400,226\n8,1425,222\n8,1450,228\n8,1475,224\n8,1500,226\n8,1525,230\n8,1535,234\n9,0,95\n9,25,92\n9,50,96\n9,75,93\n9,100,97\n9,125,94\n9,150,98\n9,175,96\n9,200,100\n9,225,97\n9,250,102\n9,275,99\n9,300,104\n9,325,101\n9,350,105\n9,375,102\n9,400,106\n9,425,103\n9,450,100\n9,475,104\n9,500,101\n9,525,98\n9,550,102\n9,575,99\n9,600,103\n9,625,100\n9,650,97\n9,675,101\n9,700,98\n9,725,90\n9,750,78\n9,775,65\n9,800,55\n9,825,50\n9,850,52\n9,875,58\n9,900,65\n9,925,74\n9,950,84\n9,975,94\n9,1000,104\n9,1025,115\n9,1050,128\n9,1075,140\n9,1100,152\n9,1125,164\n9,1150,175\n9,1175,185\n9,1200,194\n9,1225,200\n9,1250,206\n9,1275,203\n9,1300,210\n9,1325,205\n9,1350,208\n9,1375,202\n9,1400,206\n9,1425,200\n9,1450,204\n9,1475,198\n9,1500,203\n9,1525,198\n9,1535,205\n10,0,70\n10,25,68\n10,50,72\n10,75,69\n10,100,73\n10,125,70\n10,150,74\n10,175,71\n10,200,75\n10,225,72\n10,250,76\n10,275,73\n10,300,77\n10,325,74\n10,350,78\n10,375,75\n10,400,79\n10,425,76\n10,450,80\n10,475,77\n10,500,81\n10,525,78\n10,550,82\n10,575,79\n10,600,83\n10,625,80\n10,650,84\n10,675,81\n10,700,82\n10,725,76\n10,750,68\n10,775,58\n10,800,50\n10,825,45\n10,850,47\n10,875,52\n10,900,58\n10,925,66\n10,950,75\n10,975,86\n10,1000,98\n10,1025,110\n10,1050,122\n10,1075,134\n10,1100,146\n10,1125,156\n10,1150,165\n10,1175,172\n10,1200,178\n10,1225,176\n10,1250,180\n10,1275,175\n10,1300,178\n10,1325,172\n10,1350,176\n10,1375,170\n10,1400,174\n10,1425,170\n10,1450,176\n10,1475,172\n10,1500,178\n10,1525,173\n10,1535,177\n11,0,95\n11,25,98\n11,50,93\n11,75,96\n11,100,92\n11,125,95\n11,150,91\n11,175,94\n11,200,90\n11,225,93\n11,250,96\n11,275,92\n11,300,89\n11,325,93\n11,350,90\n11,375,94\n11,400,91\n11,425,88\n11,450,92\n11,475,89\n11,500,87\n11,525,91\n11,550,88\n11,575,86\n11,600,90\n11,625,87\n11,650,85\n11,675,89\n11,700,86\n11,725,78\n11,750,66\n11,775,54\n11,800,47\n11,825,45\n11,850,50\n11,875,60\n11,900,72\n11,925,85\n11,950,98\n11,975,110\n11,1000,120\n11,1025,132\n11,1050,144\n11,1075,152\n11,1100,160\n11,1125,164\n11,1150,166\n11,1175,160\n11,1200,156\n11,1225,150\n11,1250,148\n11,1275,145\n11,1300,146\n11,1325,140\n11,1350,142\n11,1375,138\n11,1400,140\n11,1425,136\n11,1450,138\n11,1475,134\n11,1500,136\n11,1525,132\n11,1535,138\n12,0,80\n12,25,83\n12,50,79\n12,75,82\n12,100,85\n12,125,81\n12,150,84\n12,175,87\n12,200,83\n12,225,86\n12,250,89\n12,275,85\n12,300,88\n12,325,91\n12,350,87\n12,375,90\n12,400,93\n12,425,89\n12,450,92\n12,475,88\n12,500,91\n12,525,94\n12,550,90\n12,575,93\n12,600,89\n12,625,92\n12,650,95\n12,675,91\n12,700,90\n12,725,82\n12,750,70\n12,775,56\n12,800,45\n12,825,40\n12,850,42\n12,875,48\n12,900,56\n12,925,65\n12,950,76\n12,975,86\n12,1000,96\n12,1025,108\n12,1050,122\n12,1075,134\n12,1100,146\n12,1125,156\n12,1150,165\n12,1175,172\n12,1200,176\n12,1225,180\n12,1250,178\n12,1275,182\n12,1300,180\n12,1325,184\n12,1350,180\n12,1375,186\n12,1400,182\n12,1425,188\n12,1450,184\n12,1475,190\n12,1500,186\n12,1525,192\n12,1535,185\n13,0,88\n13,25,85\n13,50,89\n13,75,86\n13,100,84\n13,125,88\n13,150,85\n13,175,83\n13,200,87\n13,225,84\n13,250,82\n13,275,86\n13,300,83\n13,325,81\n13,350,85\n13,375,82\n13,400,80\n13,425,84\n13,450,81\n13,475,79\n13,500,83\n13,525,80\n13,550,78\n13,575,82\n13,600,79\n13,625,77\n13,650,81\n13,675,78\n13,700,76\n13,725,68\n13,750,56\n13,775,45\n13,800,38\n13,825,35\n13,850,38\n13,875,44\n13,900,52\n13,925,60\n13,950,68\n13,975,76\n13,1000,84\n13,1025,92\n13,1050,100\n13,1075,106\n13,1100,110\n13,1125,114\n13,1150,118\n13,1175,116\n13,1200,120\n13,1225,117\n13,1250,122\n13,1275,118\n13,1300,121\n13,1325,117\n13,1350,122\n13,1375,118\n13,1400,120\n13,1425,116\n13,1450,121\n13,1475,117\n13,1500,120\n13,1525,116\n13,1535,121\n14,0,74\n14,25,72\n14,50,75\n14,75,71\n14,100,73\n14,125,70\n14,150,72\n14,175,68\n14,200,70\n14,225,67\n14,250,69\n14,275,65\n14,300,67\n14,325,64\n14,350,66\n14,375,62\n14,400,64\n14,425,61\n14,450,63\n14,475,59\n14,500,61\n14,525,58\n14,550,60\n14,575,56\n14,600,58\n14,625,55\n14,650,56\n14,675,53\n14,700,52\n14,725,48\n14,750,42\n14,775,36\n14,800,32\n14,825,30\n14,850,34\n14,875,40\n14,900,48\n14,925,56\n14,950,65\n14,975,74\n14,1000,82\n14,1025,90\n14,1050,97\n14,1075,103\n14,1100,108\n14,1125,112\n14,1150,115\n14,1175,118\n14,1200,116\n14,1225,120\n14,1250,118\n14,1275,122\n14,1300,120\n14,1325,124\n14,1350,119\n14,1375,123\n14,1400,118\n14,1425,122\n14,1450,117\n14,1475,121\n14,1500,118\n14,1525,122\n14,1535,120\n15,0,88\n15,25,84\n15,50,87\n15,75,83\n15,100,86\n15,125,82\n15,150,85\n15,175,81\n15,200,86\n15,225,83\n15,250,80\n15,275,84\n15,300,81\n15,325,85\n15,350,82\n15,375,79\n15,400,83\n15,425,80\n15,450,84\n15,475,81\n15,500,78\n15,525,82\n15,550,79\n15,575,83\n15,600,80\n15,625,77\n15,650,81\n15,675,78\n15,700,80\n15,725,72\n15,750,60\n15,775,48\n15,800,40\n15,825,35\n15,850,37\n15,875,42\n15,900,48\n15,925,55\n15,950,62\n15,975,68\n15,1000,74\n15,1025,80\n15,1050,85\n15,1075,90\n15,1100,94\n15,1125,97\n15,1150,99\n15,1175,102\n15,1200,100\n15,1225,104\n15,1250,101\n15,1275,105\n15,1300,102\n15,1325,98\n15,1350,102\n15,1375,99\n15,1400,103\n15,1425,98\n15,1450,101\n15,1475,97\n15,1500,100\n15,1525,96\n15,1535,100\n16,0,65\n16,25,68\n16,50,66\n16,75,69\n16,100,67\n16,125,70\n16,150,68\n16,175,71\n16,200,69\n16,225,72\n16,250,70\n16,275,73\n16,300,71\n16,325,74\n16,350,72\n16,375,75\n16,400,73\n16,425,76\n16,450,74\n16,475,77\n16,500,75\n16,525,78\n16,550,76\n16,575,79\n16,600,77\n16,625,80\n16,650,78\n16,675,81\n16,700,78\n16,725,70\n16,750,58\n16,775,45\n16,800,35\n16,825,30\n16,850,32\n16,875,38\n16,900,45\n16,925,54\n16,950,64\n16,975,75\n16,1000,86\n16,1025,98\n16,1050,110\n16,1075,122\n16,1100,134\n16,1125,145\n16,1150,154\n16,1175,162\n16,1200,166\n16,1225,170\n16,1250,172\n16,1275,168\n16,1300,172\n16,1325,166\n16,1350,170\n16,1375,165\n16,1400,168\n16,1425,163\n16,1450,170\n16,1475,166\n16,1500,172\n16,1525,168\n16,1535,175\n17,0,55\n17,25,53\n17,50,56\n17,75,52\n17,100,55\n17,125,51\n17,150,54\n17,175,50\n17,200,53\n17,225,56\n17,250,52\n17,275,55\n17,300,51\n17,325,54\n17,350,50\n17,375,53\n17,400,56\n17,425,52\n17,450,55\n17,475,51\n17,500,54\n17,525,50\n17,550,53\n17,575,49\n17,600,52\n17,625,55\n17,650,51\n17,675,54\n17,700,50\n17,725,45\n17,750,38\n17,775,30\n17,800,26\n17,825,25\n17,850,30\n17,875,38\n17,900,48\n17,925,60\n17,950,74\n17,975,88\n17,1000,102\n17,1025,118\n17,1050,134\n17,1075,148\n17,1100,162\n17,1125,176\n17,1150,188\n17,1175,198\n17,1200,206\n17,1225,212\n17,1250,216\n17,1275,220\n17,1300,222\n17,1325,218\n17,1350,224\n17,1375,220\n17,1400,222\n17,1425,218\n17,1450,224\n17,1475,220\n17,1500,226\n17,1525,222\n17,1535,226\n18,0,50\n18,25,48\n18,50,51\n18,75,49\n18,100,52\n18,125,50\n18,150,48\n18,175,52\n18,200,50\n18,225,53\n18,250,51\n18,275,49\n18,300,53\n18,325,51\n18,350,54\n18,375,52\n18,400,50\n18,425,54\n18,450,52\n18,475,55\n18,500,53\n18,525,51\n18,550,55\n18,575,53\n18,600,56\n18,625,54\n18,650,52\n18,675,56\n18,700,54\n18,725,48\n18,750,40\n18,775,32\n18,800,27\n18,825,25\n18,850,28\n18,875,35\n18,900,44\n18,925,55\n18,950,68\n18,975,82\n18,1000,96\n18,1025,112\n18,1050,128\n18,1075,142\n18,1100,156\n18,1125,170\n18,1150,182\n18,1175,192\n18,1200,200\n18,1225,206\n18,1250,212\n18,1275,216\n18,1300,218\n18,1325,214\n18,1350,216\n18,1375,211\n18,1400,214\n18,1425,210\n18,1450,213\n18,1475,208\n18,1500,212\n18,1525,208\n18,1535,212\n19,0,45\n19,25,43\n19,50,46\n19,75,44\n19,100,42\n19,125,45\n19,150,43\n19,175,41\n19,200,44\n19,225,42\n19,250,45\n19,275,43\n19,300,41\n19,325,44\n19,350,42\n19,375,40\n19,400,43\n19,425,41\n19,450,44\n19,475,42\n19,500,40\n19,525,43\n19,550,41\n19,575,39\n19,600,42\n19,625,40\n19,650,43\n19,675,41\n19,700,40\n19,725,36\n19,750,30\n19,775,25\n19,800,21\n19,825,20\n19,850,22\n19,875,26\n19,900,31\n19,925,37\n19,950,44\n19,975,51\n19,1000,58\n19,1025,66\n19,1050,74\n19,1075,82\n19,1100,89\n19,1125,95\n19,1150,100\n19,1175,104\n19,1200,107\n19,1225,110\n19,1250,108\n19,1275,112\n19,1300,109\n19,1325,113\n19,1350,110\n19,1375,114\n19,1400,111\n19,1425,108\n19,1450,112\n19,1475,109\n19,1500,113\n19,1525,110\n19,1535,112\n20,0,40\n20,25,38\n20,50,41\n20,75,39\n20,100,37\n20,125,40\n20,150,38\n20,175,36\n20,200,39\n20,225,37\n20,250,35\n20,275,38\n20,300,36\n20,325,34\n20,350,37\n20,375,35\n20,400,38\n20,425,36\n20,450,34\n20,475,37\n20,500,35\n20,525,33\n20,550,36\n20,575,34\n20,600,37\n20,625,35\n20,650,33\n20,675,36\n20,700,34\n20,725,31\n20,750,27\n20,775,23\n20,800,20\n20,825,21\n20,850,24\n20,875,28\n20,900,33\n20,925,38\n20,950,44\n20,975,50\n20,1000,56\n20,1025,62\n20,1050,67\n20,1075,72\n20,1100,76\n20,1125,80\n20,1150,84\n20,1175,87\n20,1200,89\n20,1225,92\n20,1250,90\n20,1275,94\n20,1300,91\n20,1325,95\n20,1350,90\n20,1375,93\n20,1400,89\n20,1425,92\n20,1450,88\n20,1475,91\n20,1500,87\n20,1525,90\n20,1535,88\n21,0,33\n21,25,31\n21,50,34\n21,75,32\n21,100,35\n21,125,33\n21,150,31\n21,175,34\n21,200,32\n21,225,30\n21,250,33\n21,275,31\n21,300,34\n21,325,32\n21,350,30\n21,375,33\n21,400,31\n21,425,34\n21,450,32\n21,475,30\n21,500,33\n21,525,31\n21,550,29\n21,575,32\n21,600,30\n21,625,33\n21,650,31\n21,675,29\n21,700,32\n21,725,28\n21,750,24\n21,775,20\n21,800,16\n21,825,15\n21,850,18\n21,875,22\n21,900,27\n21,925,32\n21,950,37\n21,975,42\n21,1000,47\n21,1025,52\n21,1050,57\n21,1075,61\n21,1100,65\n21,1125,68\n21,1150,71\n21,1175,74\n21,1200,76\n21,1225,73\n21,1250,77\n21,1275,74\n21,1300,78\n21,1325,75\n21,1350,79\n21,1375,76\n21,1400,78\n21,1425,74\n21,1450,77\n21,1475,73\n21,1500,76\n21,1525,72\n21,1535,75\n22,0,30\n22,25,32\n22,50,29\n22,75,31\n22,100,28\n22,125,30\n22,150,32\n22,175,29\n22,200,31\n22,225,28\n22,250,30\n22,275,27\n22,300,29\n22,325,31\n22,350,28\n22,375,30\n22,400,27\n22,425,29\n22,450,31\n22,475,28\n22,500,30\n22,525,27\n22,550,29\n22,575,26\n22,600,28\n22,625,30\n22,650,27\n22,675,29\n22,700,26\n22,725,23\n22,750,20\n22,775,17\n22,800,15\n22,825,14\n22,850,16\n22,875,20\n22,900,25\n22,925,30\n22,950,35\n22,975,40\n22,1000,45\n22,1025,50\n22,1050,55\n22,1075,58\n22,1100,62\n22,1125,64\n22,1150,67\n22,1175,69\n22,1200,66\n22,1225,70\n22,1250,67\n22,1275,71\n22,1300,68\n22,1325,72\n22,1350,68\n22,1375,71\n22,1400,67\n22,1425,70\n22,1450,66\n22,1475,69\n22,1500,65\n22,1525,68\n22,1535,66\n23,0,28\n23,25,26\n23,50,29\n23,75,27\n23,100,25\n23,125,28\n23,150,26\n23,175,24\n23,200,27\n23,225,25\n23,250,28\n23,275,26\n23,300,24\n23,325,27\n23,350,25\n23,375,23\n23,400,26\n23,425,24\n23,450,27\n23,475,25\n23,500,23\n23,525,26\n23,550,24\n23,575,22\n23,600,25\n23,625,23\n23,650,26\n23,675,24\n23,700,25\n23,725,22\n23,750,19\n23,775,16\n23,800,14\n23,825,15\n23,850,17\n23,875,21\n23,900,25\n23,925,29\n23,950,33\n23,975,37\n23,1000,41\n23,1025,44\n23,1050,47\n23,1075,50\n23,1100,52\n23,1125,54\n23,1150,56\n23,1175,53\n23,1200,57\n23,1225,54\n23,1250,58\n23,1275,55\n23,1300,57\n23,1325,53\n23,1350,56\n23,1375,52\n23,1400,55\n23,1425,51\n23,1450,54\n23,1475,50\n23,1500,53\n23,1525,50\n23,1535,52\n24,0,27\n24,25,29\n24,50,26\n24,75,28\n24,100,25\n24,125,27\n24,150,29\n24,175,26\n24,200,28\n24,225,25\n24,250,27\n24,275,24\n24,300,26\n24,325,28\n24,350,25\n24,375,27\n24,400,24\n24,425,26\n24,450,23\n24,475,25\n24,500,27\n24,525,24\n24,550,26\n24,575,23\n24,600,25\n24,625,22\n24,650,24\n24,675,26\n24,700,23\n24,725,20\n24,750,17\n24,775,14\n24,800,12\n24,825,13\n24,850,16\n24,875,20\n24,900,25\n24,925,30\n24,950,35\n24,975,40\n24,1000,44\n24,1025,48\n24,1050,52\n24,1075,55\n24,1100,58\n24,1125,60\n24,1150,62\n24,1175,59\n24,1200,63\n24,1225,60\n24,1250,64\n24,1275,61\n24,1300,65\n24,1325,61\n24,1350,64\n24,1375,60\n24,1400,63\n24,1425,59\n24,1450,62\n24,1475,58\n24,1500,61\n24,1525,57\n24,1535,60\n25,0,24\n25,25,22\n25,50,25\n25,75,23\n25,100,26\n25,125,24\n25,150,27\n25,175,25\n25,200,23\n25,225,26\n25,250,24\n25,275,27\n25,300,25\n25,325,28\n25,350,26\n25,375,24\n25,400,27\n25,425,25\n25,450,28\n25,475,26\n25,500,29\n25,525,27\n25,550,25\n25,575,28\n25,600,26\n25,625,29\n25,650,27\n25,675,30\n25,700,28\n25,725,24\n25,750,20\n25,775,16\n25,800,13\n25,825,12\n25,850,14\n25,875,18\n25,900,22\n25,925,26\n25,950,30\n25,975,34\n25,1000,38\n25,1025,41\n25,1050,44\n25,1075,47\n25,1100,49\n25,1125,51\n25,1150,48\n25,1175,52\n25,1200,49\n25,1225,53\n25,1250,50\n25,1275,54\n25,1300,51\n25,1325,48\n25,1350,52\n25,1375,49\n25,1400,53\n25,1425,50\n25,1450,47\n25,1475,51\n25,1500,48\n25,1525,52\n25,1535,50\n26,0,22\n26,25,20\n26,50,23\n26,75,21\n26,100,19\n26,125,22\n26,150,20\n26,175,23\n26,200,21\n26,225,19\n26,250,22\n26,275,20\n26,300,18\n26,325,21\n26,350,19\n26,375,22\n26,400,20\n26,425,18\n26,450,21\n26,475,19\n26,500,17\n26,525,20\n26,550,18\n26,575,21\n26,600,19\n26,625,17\n26,650,20\n26,675,18\n26,700,19\n26,725,17\n26,750,14\n26,775,12\n26,800,10\n26,825,11\n26,850,13\n26,875,16\n26,900,19\n26,925,23\n26,950,27\n26,975,31\n26,1000,34\n26,1025,37\n26,1050,40\n26,1075,42\n26,1100,44\n26,1125,41\n26,1150,45\n26,1175,42\n26,1200,46\n26,1225,43\n26,1250,47\n26,1275,44\n26,1300,46\n26,1325,42\n26,1350,45\n26,1375,41\n26,1400,44\n26,1425,40\n26,1450,43\n26,1475,39\n26,1500,42\n26,1525,38\n26,1535,41\n27,0,20\n27,25,22\n27,50,19\n27,75,21\n27,100,18\n27,125,20\n27,150,22\n27,175,19\n27,200,21\n27,225,18\n27,250,20\n27,275,17\n27,300,19\n27,325,21\n27,350,18\n27,375,20\n27,400,17\n27,425,19\n27,450,21\n27,475,18\n27,500,20\n27,525,17\n27,550,19\n27,575,16\n27,600,18\n27,625,20\n27,650,17\n27,675,19\n27,700,18\n27,725,16\n27,750,14\n27,775,12\n27,800,11\n27,825,12\n27,850,15\n27,875,20\n27,900,26\n27,925,32\n27,950,38\n27,975,44\n27,1000,50\n27,1025,56\n27,1050,61\n27,1075,66\n27,1100,70\n27,1125,74\n27,1150,77\n27,1175,80\n27,1200,78\n27,1225,82\n27,1250,79\n27,1275,83\n27,1300,80\n27,1325,84\n27,1350,79\n27,1375,82\n27,1400,78\n27,1425,81\n27,1450,77\n27,1475,80\n27,1500,76\n27,1525,79\n27,1535,78\n28,0,15\n28,25,12\n28,50,17\n28,75,13\n28,100,16\n28,125,11\n28,150,15\n28,175,12\n28,200,16\n28,225,13\n28,250,17\n28,275,12\n28,300,15\n28,325,11\n28,350,16\n28,375,13\n28,400,15\n28,425,12\n28,450,17\n28,475,13\n28,500,16\n28,525,12\n28,550,15\n28,575,11\n28,600,16\n28,625,13\n28,650,15\n28,675,12\n28,700,16\n28,725,13\n28,750,14\n28,775,11\n28,800,9\n28,825,8\n28,850,10\n28,875,12\n28,900,14\n28,925,13\n28,950,16\n28,975,15\n28,1000,18\n28,1025,16\n28,1050,19\n28,1075,17\n28,1100,20\n28,1125,18\n28,1150,21\n28,1175,17\n28,1200,20\n28,1225,18\n28,1250,21\n28,1275,17\n28,1300,20\n28,1325,18\n28,1350,21\n28,1375,17\n28,1400,20\n28,1425,18\n28,1450,21\n28,1475,17\n28,1500,20\n28,1525,18\n28,1535,19\n29,0,10\n29,25,13\n29,50,9\n29,75,12\n29,100,8\n29,125,11\n29,150,14\n29,175,9\n29,200,12\n29,225,8\n29,250,11\n29,275,13\n29,300,9\n29,325,12\n29,350,8\n29,375,11\n29,400,14\n29,425,10\n29,450,12\n29,475,8\n29,500,11\n29,525,13\n29,550,9\n29,575,12\n29,600,8\n29,625,11\n29,650,14\n29,675,9\n29,700,12\n29,725,8\n29,750,10\n29,775,8\n29,800,7\n29,825,6\n29,850,8\n29,875,9\n29,900,11\n29,925,10\n29,950,13\n29,975,11\n29,1000,14\n29,1025,12\n29,1050,15\n29,1075,13\n29,1100,16\n29,1125,12\n29,1150,15\n29,1175,13\n29,1200,16\n29,1225,12\n29,1250,15\n29,1275,13\n29,1300,16\n29,1325,12\n29,1350,15\n29,1375,13\n29,1400,16\n29,1425,12\n29,1450,15\n29,1475,13\n29,1500,16\n29,1525,12\n29,1535,14\n30,0,6\n30,25,8\n30,50,5\n30,75,7\n30,100,4\n30,125,6\n30,150,9\n30,175,5\n30,200,7\n30,225,4\n30,250,6\n30,275,8\n30,300,5\n30,325,7\n30,350,4\n30,375,6\n30,400,9\n30,425,5\n30,450,7\n30,475,4\n30,500,6\n30,525,8\n30,550,5\n30,575,7\n30,600,4\n30,625,6\n30,650,9\n30,675,5\n30,700,7\n30,725,4\n30,750,6\n30,775,5\n30,800,4\n30,825,4\n30,850,5\n30,875,6\n30,900,7\n30,925,6\n30,950,8\n30,975,7\n30,1000,9\n30,1025,7\n30,1050,10\n30,1075,8\n30,1100,9\n30,1125,7\n30,1150,10\n30,1175,8\n30,1200,9\n30,1225,7\n30,1250,10\n30,1275,8\n30,1300,9\n30,1325,7\n30,1350,10\n30,1375,8\n30,1400,9\n30,1425,7\n30,1450,10\n30,1475,8\n30,1500,9\n30,1525,7\n30,1535,8\n31,0,19\n31,25,22\n31,50,18\n31,75,21\n31,100,17\n31,125,20\n31,150,23\n31,175,18\n31,200,21\n31,225,17\n31,250,20\n31,275,22\n31,300,18\n31,325,21\n31,350,17\n31,375,20\n31,400,23\n31,425,18\n31,450,21\n31,475,17\n31,500,20\n31,525,22\n31,550,18\n31,575,21\n31,600,17\n31,625,20\n31,650,23\n31,675,18\n31,700,21\n31,725,17\n31,750,19\n31,775,16\n31,800,13\n31,825,11\n31,850,13\n31,875,16\n31,900,19\n31,925,18\n31,950,22\n31,975,20\n31,1000,24\n31,1025,21\n31,1050,25\n31,1075,22\n31,1100,26\n31,1125,23\n31,1150,27\n31,1175,22\n31,1200,26\n31,1225,23\n31,1250,27\n31,1275,22\n31,1300,26\n31,1325,23\n31,1350,27\n31,1375,22\n31,1400,26\n31,1425,23\n31,1450,27\n31,1475,22\n31,1500,26\n31,1525,23\n31,1535,25\n32,0,3\n32,25,2\n32,50,4\n32,75,2\n32,100,3\n32,125,1\n32,150,3\n32,175,2\n32,200,4\n32,225,2\n32,250,3\n32,275,1\n32,300,3\n32,325,2\n32,350,4\n32,375,2\n32,400,3\n32,425,1\n32,450,3\n32,475,2\n32,500,4\n32,525,2\n32,550,3\n32,575,1\n32,600,3\n32,625,2\n32,650,4\n32,675,2\n32,700,3\n32,725,1\n32,750,3\n32,775,2\n32,800,2\n32,825,1\n32,850,2\n32,875,3\n32,900,3\n32,925,2\n32,950,4\n32,975,3\n32,1000,4\n32,1025,2\n32,1050,4\n32,1075,3\n32,1100,4\n32,1125,2\n32,1150,4\n32,1175,3\n32,1200,4\n32,1225,2\n32,1250,4\n32,1275,3\n32,1300,4\n32,1325,2\n32,1350,4\n32,1375,3\n32,1400,4\n32,1425,2\n32,1450,4\n32,1475,3\n32,1500,4\n32,1525,2\n32,1535,3\n33,0,12\n33,25,15\n33,50,11\n33,75,14\n33,100,10\n33,125,13\n33,150,16\n33,175,11\n33,200,14\n33,225,10\n33,250,13\n33,275,15\n33,300,11\n33,325,14\n33,350,10\n33,375,13\n33,400,16\n33,425,11\n33,450,14\n33,475,10\n33,500,13\n33,525,15\n33,550,11\n33,575,14\n33,600,10\n33,625,13\n33,650,16\n33,675,11\n33,700,14\n33,725,10\n33,750,12\n33,775,10\n33,800,8\n33,825,7\n33,850,9\n33,875,11\n33,900,14\n33,925,13\n33,950,17\n33,975,15\n33,1000,19\n33,1025,16\n33,1050,21\n33,1075,18\n33,1100,22\n33,1125,19\n33,1150,23\n33,1175,18\n33,1200,22\n33,1225,19\n33,1250,23\n33,1275,18\n33,1300,22\n33,1325,19\n33,1350,23\n33,1375,18\n33,1400,22\n33,1425,19\n33,1450,23\n33,1475,18\n33,1500,22\n33,1525,19\n33,1535,21\n34,0,8\n34,25,10\n34,50,7\n34,75,9\n34,100,6\n34,125,8\n34,150,11\n34,175,7\n34,200,9\n34,225,6\n34,250,8\n34,275,10\n34,300,7\n34,325,9\n34,350,6\n34,375,8\n34,400,11\n34,425,7\n34,450,9\n34,475,6\n34,500,8\n34,525,10\n34,550,7\n34,575,9\n34,600,6\n34,625,8\n34,650,11\n34,675,7\n34,700,9\n34,725,6\n34,750,8\n34,775,7\n34,800,6\n34,825,5\n34,850,6\n34,875,8\n34,900,9\n34,925,8\n34,950,11\n34,975,9\n34,1000,12\n34,1025,10\n34,1050,13\n34,1075,11\n34,1100,12\n34,1125,10\n34,1150,13\n34,1175,11\n34,1200,12\n34,1225,10\n34,1250,13\n34,1275,11\n34,1300,12\n34,1325,10\n34,1350,13\n34,1375,11\n34,1400,12\n34,1425,10\n34,1450,13\n34,1475,11\n34,1500,12\n34,1525,10\n34,1535,11\n35,0,60\n35,25,56\n35,50,62\n35,75,57\n35,100,61\n35,125,55\n35,150,60\n35,175,54\n35,200,59\n35,225,62\n35,250,56\n35,275,60\n35,300,55\n35,325,59\n35,350,53\n35,375,58\n35,400,61\n35,425,55\n35,450,59\n35,475,54\n35,500,58\n35,525,52\n35,550,57\n35,575,60\n35,600,54\n35,625,58\n35,650,53\n35,675,57\n35,700,55\n35,725,50\n35,750,42\n35,775,33\n35,800,27\n35,825,25\n35,850,30\n35,875,38\n35,900,46\n35,925,55\n35,950,62\n35,975,70\n35,1000,78\n35,1025,84\n35,1050,90\n35,1075,95\n35,1100,99\n35,1125,102\n35,1150,96\n35,1175,104\n35,1200,99\n35,1225,107\n35,1250,100\n35,1275,106\n35,1300,98\n35,1325,105\n35,1350,99\n35,1375,108\n35,1400,101\n35,1425,106\n35,1450,98\n35,1475,104\n35,1500,100\n35,1525,107\n35,1535,103\n36,0,50\n36,25,46\n36,50,52\n36,75,47\n36,100,51\n36,125,45\n36,150,50\n36,175,53\n36,200,47\n36,225,51\n36,250,46\n36,275,50\n36,300,44\n36,325,49\n36,350,52\n36,375,46\n36,400,50\n36,425,45\n36,450,49\n36,475,53\n36,500,47\n36,525,51\n36,550,46\n36,575,50\n36,600,44\n36,625,48\n36,650,52\n36,675,46\n36,700,49\n36,725,44\n36,750,36\n36,775,28\n36,800,23\n36,825,22\n36,850,26\n36,875,30\n36,900,35\n36,925,40\n36,950,46\n36,975,52\n36,1000,58\n36,1025,64\n36,1050,70\n36,1075,76\n36,1100,82\n36,1125,88\n36,1150,84\n36,1175,92\n36,1200,86\n36,1225,95\n36,1250,89\n36,1275,97\n36,1300,90\n36,1325,96\n36,1350,88\n36,1375,95\n36,1400,90\n36,1425,98\n36,1450,91\n36,1475,96\n36,1500,89\n36,1525,94\n36,1535,92\n37,0,45\n37,25,49\n37,50,44\n37,75,48\n37,100,43\n37,125,47\n37,150,50\n37,175,45\n37,200,49\n37,225,44\n37,250,48\n37,275,52\n37,300,46\n37,325,50\n37,350,45\n37,375,49\n37,400,53\n37,425,47\n37,450,51\n37,475,46\n37,500,50\n37,525,54\n37,550,48\n37,575,52\n37,600,47\n37,625,51\n37,650,55\n37,675,49\n37,700,50\n37,725,45\n37,750,37\n37,775,28\n37,800,22\n37,825,20\n37,850,24\n37,875,30\n37,900,36\n37,925,42\n37,950,48\n37,975,54\n37,1000,60\n37,1025,65\n37,1050,70\n37,1075,74\n37,1100,78\n37,1125,82\n37,1150,76\n37,1175,84\n37,1200,78\n37,1225,86\n37,1250,80\n37,1275,85\n37,1300,79\n37,1325,87\n37,1350,80\n37,1375,84\n37,1400,78\n37,1425,86\n37,1450,80\n37,1475,85\n37,1500,79\n37,1525,83\n37,1535,81\n38,0,38\n38,25,42\n38,50,36\n38,75,40\n38,100,35\n38,125,39\n38,150,43\n38,175,37\n38,200,41\n38,225,36\n38,250,40\n38,275,34\n38,300,38\n38,325,42\n38,350,36\n38,375,40\n38,400,35\n38,425,39\n38,450,33\n38,475,37\n38,500,41\n38,525,35\n38,550,39\n38,575,34\n38,600,38\n38,625,32\n38,650,36\n38,675,40\n38,700,35\n38,725,31\n38,750,26\n38,775,21\n38,800,17\n38,825,16\n38,850,19\n38,875,24\n38,900,29\n38,925,34\n38,950,39\n38,975,44\n38,1000,49\n38,1025,53\n38,1050,57\n38,1075,60\n38,1100,63\n38,1125,58\n38,1150,66\n38,1175,60\n38,1200,67\n38,1225,61\n38,1250,65\n38,1275,59\n38,1300,68\n38,1325,61\n38,1350,64\n38,1375,58\n38,1400,66\n38,1425,60\n38,1450,65\n38,1475,59\n38,1500,63\n38,1525,57\n38,1535,62\n39,0,32\n39,25,36\n39,50,30\n39,75,34\n39,100,29\n39,125,33\n39,150,37\n39,175,31\n39,200,35\n39,225,30\n39,250,34\n39,275,38\n39,300,32\n39,325,36\n39,350,31\n39,375,35\n39,400,39\n39,425,33\n39,450,37\n39,475,32\n39,500,36\n39,525,40\n39,550,34\n39,575,38\n39,600,33\n39,625,37\n39,650,35\n39,675,39\n39,700,35\n39,725,30\n39,750,25\n39,775,19\n39,800,15\n39,825,15\n39,850,18\n39,875,22\n39,900,27\n39,925,32\n39,950,36\n39,975,41\n39,1000,45\n39,1025,49\n39,1050,52\n39,1075,55\n39,1100,50\n39,1125,57\n39,1150,51\n39,1175,58\n39,1200,52\n39,1225,56\n39,1250,49\n39,1275,57\n39,1300,51\n39,1325,55\n39,1350,48\n39,1375,56\n39,1400,50\n39,1425,54\n39,1450,48\n39,1475,55\n39,1500,50\n39,1525,53\n39,1535,51\n40,0,30\n40,25,27\n40,50,32\n40,75,28\n40,100,31\n40,125,26\n40,150,30\n40,175,33\n40,200,28\n40,225,31\n40,250,27\n40,275,30\n40,300,25\n40,325,29\n40,350,32\n40,375,27\n40,400,30\n40,425,26\n40,450,29\n40,475,32\n40,500,27\n40,525,30\n40,550,25\n40,575,28\n40,600,31\n40,625,26\n40,650,29\n40,675,27\n40,700,28\n40,725,25\n40,750,21\n40,775,17\n40,800,14\n40,825,13\n40,850,15\n40,875,18\n40,900,21\n40,925,24\n40,950,27\n40,975,30\n40,1000,33\n40,1025,36\n40,1050,38\n40,1075,35\n40,1100,40\n40,1125,36\n40,1150,41\n40,1175,37\n40,1200,42\n40,1225,36\n40,1250,40\n40,1275,35\n40,1300,41\n40,1325,37\n40,1350,42\n40,1375,36\n40,1400,40\n40,1425,35\n40,1450,39\n40,1475,34\n40,1500,38\n40,1525,33\n40,1535,36",
        "format": {"type": "csv", "parse": {"s": "number", "t": "number", "v": "number"}}
      },
      "layer": [
        {
          "mark": {"type": "line", "interpolate": "linear"},
          "encoding": {
            "x": {"field": "t", "type": "quantitative", "scale": {"domain": [0, 1600], "nice": false, "zero": false},
                  "axis": {"orient": "bottom", "values": [0, 200, 400, 600, 800, 1000, 1200, 1400, 1600], "format": "d", "title": "Rec. moments (s)"}},
            "y": {"field": "v", "type": "quantitative", "scale": {"domain": [0, 350], "nice": false},
                  "axis": {"orient": "left", "values": [0, 50, 100, 150, 200, 250, 300, 350], "labelExpr": "datum.value / 100", "title": "Signal amplitude (A.U.)"}},
            "color": {"field": "s", "type": "nominal", "legend": null,
                      "scale": {"range": ["#0077C0", "#F0561E", "#FBB317", "#8B3493", "#6FAF32", "#25BDEE", "#BA1A3E"]}},
            "strokeWidth": {"condition": {"test": "datum.s >= 28 && datum.s <= 34", "value": 8}, "value": 2.4}
          }
        },
        {
          "data": {"values": [{"t": 0, "v": 128}, {"t": 705, "v": 118}]},
          "mark": {"type": "line", "color": "#FF0000", "strokeWidth": 13},
          "encoding": {
            "x": {"field": "t", "type": "quantitative",
                  "axis": {"orient": "top", "values": [0, 200, 400, 600, 800, 1000, 1200, 1400, 1600], "labels": false, "title": null}},
            "y": {"field": "v", "type": "quantitative",
                  "axis": {"orient": "right", "values": [0, 50, 100, 150, 200, 250, 300, 350], "labels": false, "title": null}}
          }
        },
        {
          "transform": [{"filter": "datum.s == 0 && datum.t <= 700"}],
          "mark": {"type": "circle", "color": "#000000", "size": 30, "opacity": 1},
          "encoding": {
            "x": {"field": "t", "type": "quantitative", "axis": null},
            "y": {"field": "v", "type": "quantitative", "axis": null}
          }
        },
        {
          "data": {"values": [{"t": 0, "v": 350, "lab": "× 10"}]},
          "mark": {"type": "text", "align": "left", "baseline": "alphabetic", "dx": 5, "dy": -10, "fontSize": 39, "color": "#262626"},
          "encoding": {
            "x": {"field": "t", "type": "quantitative", "axis": null},
            "y": {"field": "v", "type": "quantitative", "axis": null},
            "text": {"field": "lab"}
          }
        },
        {
          "data": {"values": [{"t": 0, "v": 350, "lab": "-3"}]},
          "mark": {"type": "text", "align": "left", "baseline": "alphabetic", "dx": 78, "dy": -28, "fontSize": 28, "color": "#262626"},
          "encoding": {
            "x": {"field": "t", "type": "quantitative", "axis": null},
            "y": {"field": "v", "type": "quantitative", "axis": null},
            "text": {"field": "lab"}
          }
        }
      ],
      "resolve": {"axis": {"x": "independent", "y": "independent"}}
    }
  ]
}
